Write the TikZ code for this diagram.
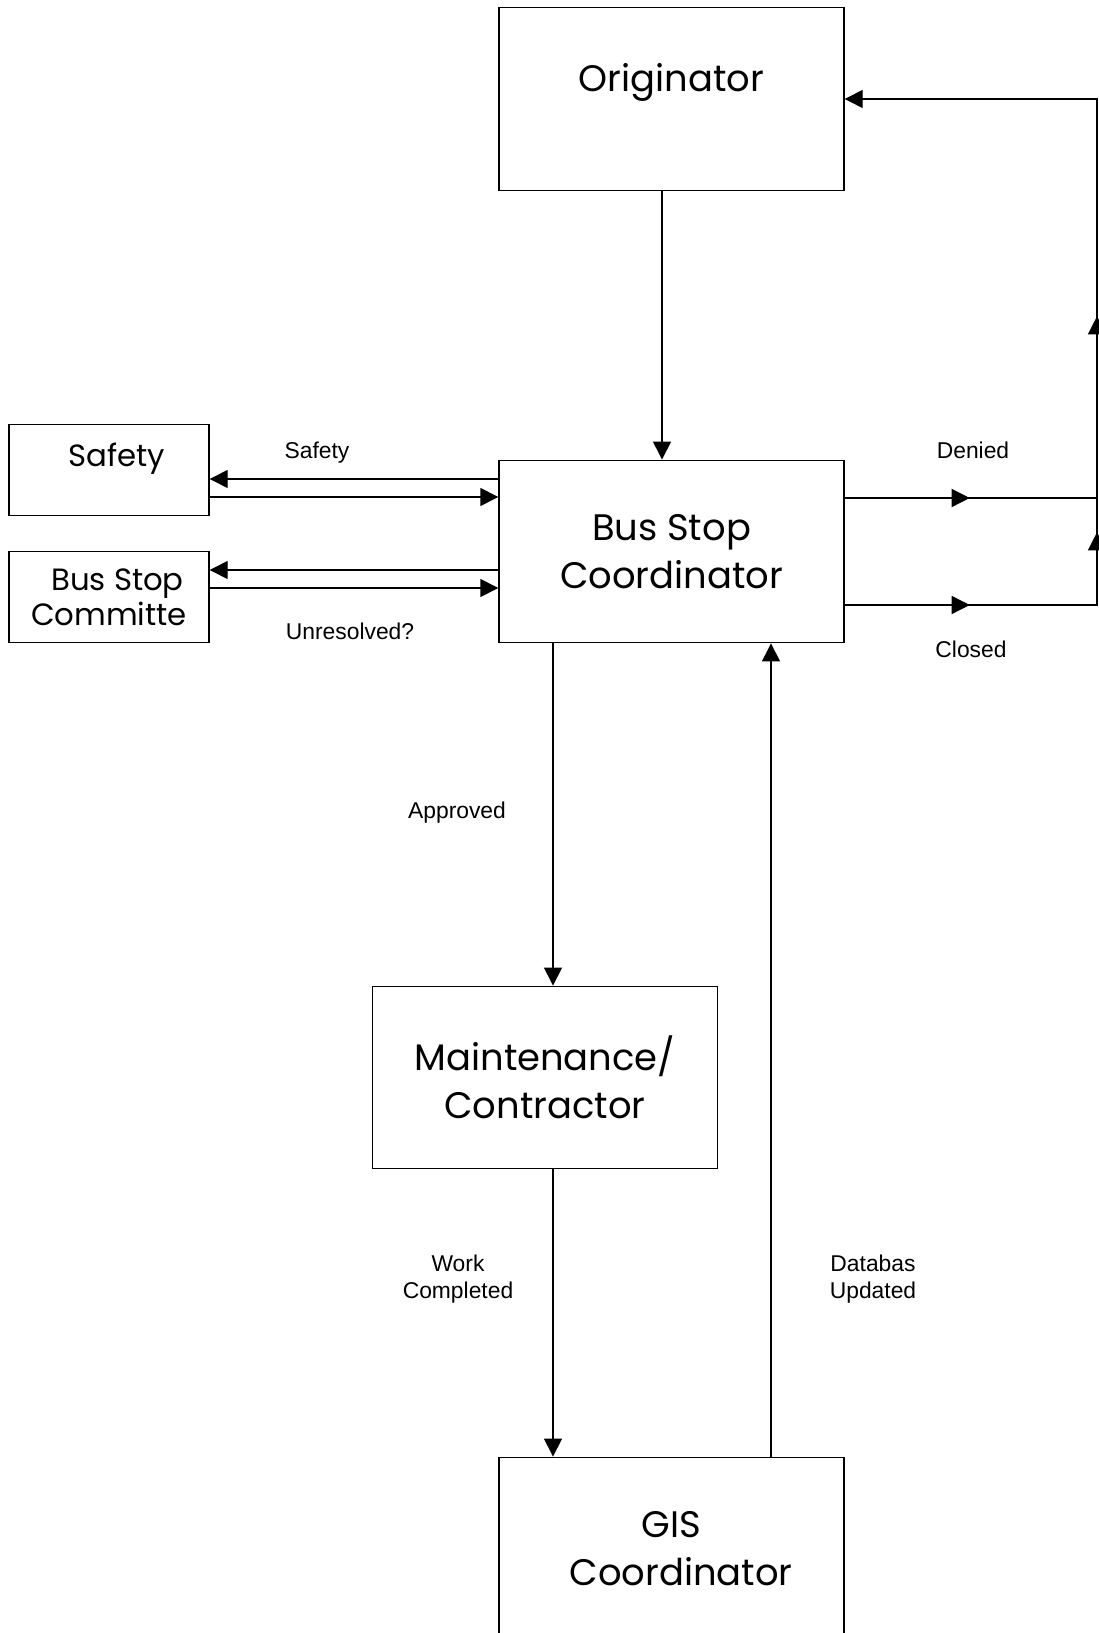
\documentclass[tikz,border=0pt]{standalone}
\usepackage{fontspec}
\setmainfont{Liberation Sans}
\newfontfamily\boxfont{Poppins}
\usetikzlibrary{positioning,arrows.meta,decorations.markings}
\tikzset{
  box/.style    = {draw, line width=0.8pt, align=center, inner sep=0pt,
                   minimum width=6.9cm, minimum height=3.65cm,
                   font=\boxfont\fontsize{21}{27.5}\selectfont},
  side/.style   = {box, minimum width=4cm, minimum height=1.82cm,
                   font=\boxfont\fontsize{17.5}{19.8}\selectfont},
  ln/.style     = {line width=0.8pt},
  ar/.style     = {ln, -{Triangle[length=3.6mm,width=3.6mm]}},
  midtip/.style = {postaction={decorate, decoration={markings,
                   mark=at position #1 with {\arrow{Triangle[length=3.6mm,width=3.6mm]}}}}},
  lbl/.style    = {font=\fontsize{13}{15.6}\selectfont, align=center, inner sep=1pt},
}
\begin{document}
\begin{tikzpicture}
\useasboundingbox (0,0) rectangle (21.98,-32.66);

% boxes
\node[box, text depth=8.6mm] (orig) at (13.43,-1.98) {Originator};
\node[box] (bsc) at (13.43,-11.03) {Bus Stop\\Coordinator};
\node[side, text depth=6mm] (safety) at (2.18,-9.40) {\hspace*{3mm}Safety};
\node[side] (cmte) at (2.18,-11.94) {\hspace*{3.4mm}Bus Stop\\Committe};
\node[box] (maint) at (10.9,-21.55) {Maintenance/\\Contractor};
\node[box] (gis) at (13.43,-30.97) {GIS\\\hspace*{3.8mm}Coordinator};

% labels
\node[lbl] (lsafe)  at (6.34,-9.05)  {Safety};
\node[lbl] (lunres) at (7.0,-12.62)  {Unresolved?};
\node[lbl] (lden)   at (19.46,-9.0)  {Denied};
\node[lbl] (lclo)   at (19.42,-12.98) {Closed};
\node[lbl] (lapp)   at (9.14,-16.26) {Approved};
\node[lbl] (lwork)  at (9.16,-25.58) {Work\\Completed};
\node[lbl] (ldb)    at (17.46,-25.58) {Databas\\Updated};

% return line on the right
\coordinate (dj) at (21.94,-9.96);
\coordinate (cj) at (21.94,-12.10);

\draw[ar] ([xshift=-1.9mm]orig.south) -- ([xshift=-1.9mm]bsc.north);
\draw[ar] (bsc.west |- 0,-9.58) -- (safety.east |- 0,-9.58);
\draw[ar] (safety.east |- 0,-9.94) -- (bsc.west |- 0,-9.94);
\draw[ar] (bsc.west |- 0,-11.40) -- (cmte.east |- 0,-11.40);
\draw[ar] (cmte.east |- 0,-11.76) -- (bsc.west |- 0,-11.76);
\draw[ln, midtip=2.5cm] (dj -| bsc.east) -- (dj);
\draw[ar, midtip=2.5cm, midtip=6.5cm, midtip=10.82cm] (cj -| bsc.east) -- (cj) |- (orig.east);
\draw[ar] (bsc.south -| 11.06,0) -- (maint.north -| 11.06,0);
\draw[ar] (maint.south -| 11.06,0) -- (gis.north -| 11.06,0);
\draw[ar] (gis.north -| 15.42,0) -- (bsc.south -| 15.42,0);
\end{tikzpicture}
\end{document}
